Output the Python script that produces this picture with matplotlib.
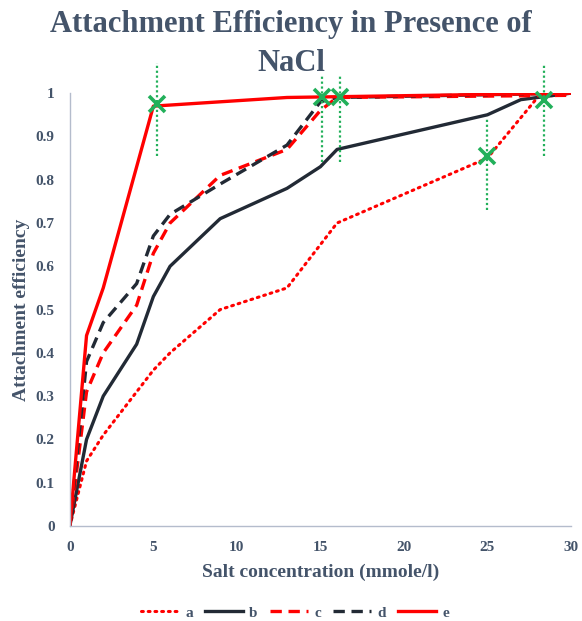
import numpy as np
import matplotlib.pyplot as plt

# datos
x_a = [0, 1, 2, 3, 4, 5, 6, 9, 13, 16, 25, 28, 30]
y_a = [0, 0.15, 0.21, 0.26, 0.31, 0.36, 0.40, 0.50, 0.55, 0.70, 0.85, 0.99, 1.0]

x_b = [0, 1, 2, 4, 5, 6, 9, 13, 15, 16, 25, 27, 28, 30]
y_b = [0, 0.20, 0.30, 0.42, 0.53, 0.60, 0.71, 0.78, 0.83, 0.87, 0.95, 0.985, 0.99, 1.0]

x_c = [0, 1, 2, 4, 5, 6, 9, 13, 15, 16, 30]
y_c = [0, 0.31, 0.40, 0.51, 0.63, 0.70, 0.81, 0.87, 0.96, 0.99, 0.995]

x_d = [0, 1, 2, 4, 5, 6, 9, 13, 15, 16, 30]
y_d = [0, 0.38, 0.47, 0.56, 0.67, 0.72, 0.79, 0.88, 0.98, 0.99, 1.0]

x_e = [0, 1, 2, 5, 13, 30]
y_e = [0, 0.44, 0.55, 0.97, 0.99, 1.0]

# puntos marcados con barras verticales punteadas
x_marca = [5.2, 15.1, 16.2, 25.0, 28.4]
y_marca = [0.975, 0.99, 0.99, 0.855, 0.985]
err_abajo = [0.12, 0.15, 0.15, 0.125, 0.13]
err_arriba = [0.095, 0.055, 0.055, 0.085, 0.08]

etiquetas_y = ['0', '0.1', '0.2', '0.3', '0.4', '0.5', '0.6', '0.7', '0.8', '0.9', '1']

rojo = '#FF0000'
oscuro = '#222A35'
verde = '#22B05A'
texto = '#44546A'

plt.rcParams['font.family'] = ['Liberation Serif', 'DejaVu Serif']

fig = plt.figure(figsize=(5.82, 6.21), dpi=100)
ax = fig.add_axes([0.120, 0.153, 0.861, 0.697])

ax.plot(x_a, y_a, color=rojo, lw=2.2, linestyle=(0, (0.6, 1.6)), dash_capstyle='round', label='a')
ax.plot(x_b, y_b, color=oscuro, lw=2.4, label='b')
ax.plot(x_c, y_c, color=rojo, lw=2.4, linestyle=(0, (3.4, 2.0)), label='c')
ax.plot(x_d, y_d, color=oscuro, lw=2.4, linestyle=(0, (3.4, 2.0)), label='d')
ax.plot(x_e, y_e, color=rojo, lw=2.4, label='e')

# barras punteadas y cruces
for x0, y0, lo, hi in zip(x_marca, y_marca, err_abajo, err_arriba):
    ax.plot([x0, x0], [y0 - lo, y0 + hi], color=verde, lw=1.6, linestyle=(0, (1, 1.2)), clip_on=False)
ax.plot(x_marca, y_marca, 'x', color=verde, ms=12, mew=2.6, linestyle='none', clip_on=False, zorder=5)

ax.set_xlim(0, 30)
ax.set_ylim(0, 1)
ax.set_xticks(np.arange(0, 31, 5))
ax.set_yticks(np.arange(0, 1.01, 0.1))
ax.set_yticklabels(etiquetas_y)
ax.tick_params(length=0, labelsize=11, labelcolor=texto)
ax.tick_params(axis='x', pad=11)
ax.tick_params(axis='y', pad=11)
for t in ax.get_xticklabels() + ax.get_yticklabels():
    t.set_fontweight('bold')

for s in ['top', 'right']:
    ax.spines[s].set_visible(False)
for s in ['left', 'bottom']:
    ax.spines[s].set_color('#B4BCCC')
    ax.spines[s].set_linewidth(1.0)

ax.set_xlabel('Salt concentration (mmole/l)', fontsize=14, fontweight='bold', color=texto, labelpad=7)
ax.set_ylabel('Attachment efficiency', fontsize=14, fontweight='bold', color=texto, labelpad=4)

fig.suptitle('Attachment Efficiency in Presence of\nNaCl', fontsize=22, fontweight='bold',
             color=texto, y=0.984, linespacing=1.45)

leg = fig.legend(loc='center', ncol=5, bbox_to_anchor=(0.507, 0.013),
                 frameon=False, handlelength=2.5, handletextpad=0.4, columnspacing=0.8,
                 prop={'weight': 'bold', 'size': 11})
for t in leg.get_texts():
    t.set_color(texto)

plt.savefig('out.png', dpi=100)
plt.close()
